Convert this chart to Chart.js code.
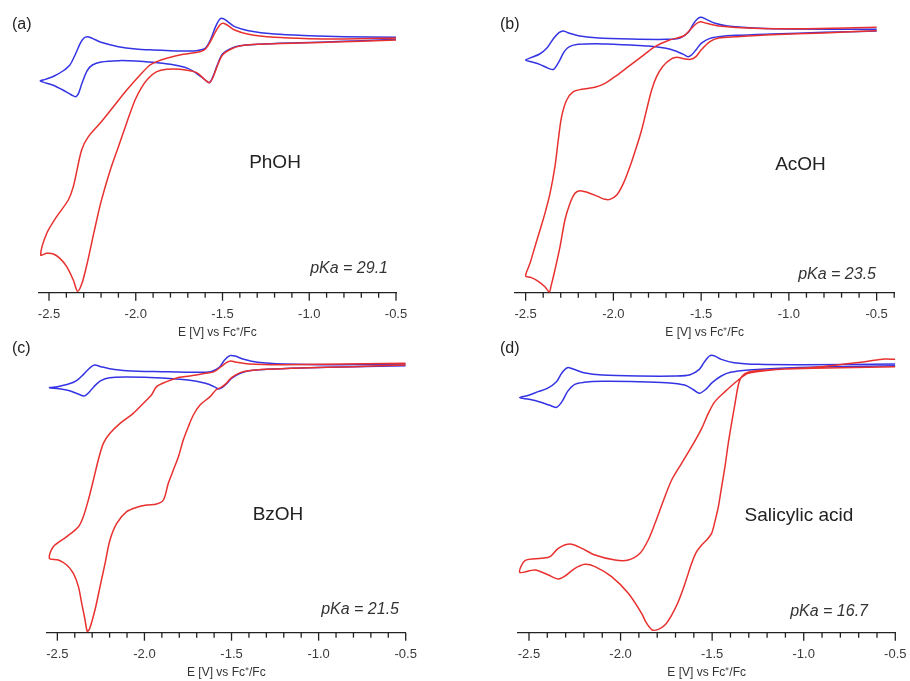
<!DOCTYPE html>
<html>
<head>
<meta charset="utf-8">
<script src="https://cdn.jsdelivr.net/npm/chart.js@4.4.1/dist/chart.umd.min.js"></script>
<style>
  html, body { margin: 0; padding: 0; background: #fff; }
  #wrap { position: relative; width: 910px; height: 681px; overflow: hidden; }
  canvas { position: absolute; }
</style>
</head>
<body>
<div id="wrap">
  <canvas id="cv_a" width="455" height="342" style="left:0;top:0"></canvas>
  <canvas id="cv_b" width="455" height="342" style="left:455px;top:0"></canvas>
  <canvas id="cv_c" width="455" height="341" style="left:0;top:340px"></canvas>
  <canvas id="cv_d" width="455" height="341" style="left:455px;top:340px"></canvas>
</div>
<script>
// CVs of the catalyst alone (blue) and with acid (red)
// E in V vs Fc+/Fc, current in arbitrary units (cathodic = down)

const xTicks = [-2.5, -2.4, -2.3, -2.2, -2.1, -2.0, -1.9, -1.8, -1.7, -1.6, -1.5, -1.4, -1.3, -1.2, -1.1, -1.0, -0.9, -0.8, -0.7, -0.6, -0.5, -0.4];

// (a) PhOH
const eBlueA = [-0.5, -0.7, -0.9, -1.1, -1.3, -1.4, -1.45, -1.5, -1.53, -1.555, -1.575, -1.6, -1.65, -1.7, -1.8, -1.9, -2.0, -2.1, -2.2, -2.25, -2.28, -2.31, -2.33, -2.345, -2.37, -2.42, -2.48, -2.55,
  -2.52, -2.47, -2.42, -2.38, -2.35, -2.32, -2.3, -2.28, -2.25, -2.2, -2.1, -2.0, -1.9, -1.8, -1.7, -1.65, -1.6, -1.57, -1.54, -1.515, -1.495, -1.47, -1.43, -1.35, -1.2, -1.0, -0.8, -0.5];
const iBlueA = [-18, -22, -26, -29, -33, -37, -45, -62, -95, -130, -148, -140, -120, -105, -93, -87, -83, -82, -86, -95, -112, -150, -180, -190, -185, -170, -155, -143,
  -138, -128, -113, -95, -65, -30, -15, -10, -15, -27, -40, -47, -50, -52, -53, -52, -45, -20, 20, 43, 44, 35, 20, 8, -2, -7, -10, -12];
const eRedA = [-0.5, -0.9, -1.3, -1.4, -1.45, -1.5, -1.53, -1.555, -1.575, -1.6, -1.649, -1.745, -1.822, -1.879, -1.927, -1.966, -2.004, -2.05, -2.1, -2.15, -2.2, -2.24, -2.28, -2.31, -2.335, -2.36, -2.398, -2.437, -2.475, -2.513, -2.548,
  -2.513, -2.456, -2.389, -2.36, -2.312, -2.273, -2.206, -2.129, -2.052, -1.975, -1.918, -1.879, -1.822, -1.726, -1.63, -1.6, -1.57, -1.54, -1.515, -1.495, -1.47, -1.43, -1.35, -1.2, -1.0, -0.8, -0.5];
const iRedA = [-20, -27, -33, -38, -47, -65, -98, -132, -148, -140, -118, -108, -108, -115, -135, -162, -200, -265, -340, -415, -505, -595, -690, -750, -774, -740, -700, -675, -662, -660, -665,
  -600, -550, -500, -460, -350, -310, -270, -220, -170, -125, -95, -85, -75, -63, -55, -48, -25, 5, 25, 30, 24, 10, -3, -12, -16, -17, -14];

// (b) AcOH
const eBlueB = [-0.5, -0.8, -1.1, -1.3, -1.4, -1.45, -1.5, -1.53, -1.555, -1.575, -1.6, -1.65, -1.7, -1.8, -1.9, -2.0, -2.1, -2.2, -2.25, -2.28, -2.31, -2.34, -2.37, -2.42, -2.47, -2.5,
  -2.47, -2.42, -2.38, -2.34, -2.31, -2.285, -2.25, -2.2, -2.1, -1.9, -1.7, -1.62, -1.57, -1.54, -1.505, -1.47, -1.42, -1.35, -1.2, -1.0, -0.5];
const iBlueB = [7, 3, -2, -6, -10, -15, -30, -50, -65, -70, -63, -52, -45, -38, -35, -33, -31, -33, -40, -55, -85, -108, -105, -93, -85, -80,
  -73, -62, -45, -15, 2, 7, 0, -7, -13, -17, -18, -14, 5, 32, 48, 42, 30, 22, 16, 13, 12];
const eRedB = [-0.5, -0.8, -1.1, -1.3, -1.4, -1.45, -1.5, -1.53, -1.56, -1.6, -1.64, -1.68, -1.72, -1.754, -1.782, -1.811, -1.839, -1.868, -1.906, -1.943, -1.981, -2.019, -2.048, -2.086, -2.143, -2.19, -2.219, -2.247, -2.276, -2.304, -2.333, -2.356, -2.365, -2.39, -2.43, -2.47, -2.5,
  -2.475, -2.447, -2.418, -2.39, -2.361, -2.333, -2.314, -2.295, -2.266, -2.228, -2.181, -2.105, -2.048, -1.991, -1.915, -1.839, -1.763, -1.68, -1.6, -1.56, -1.53, -1.505, -1.47, -1.4, -1.2, -0.9, -0.5];
const iRedB = [8, 1, -4, -10, -14, -25, -50, -70, -78, -76, -72, -80, -100, -130, -170, -230, -290, -340, -400, -450, -485, -498, -498, -490, -478, -472, -480, -510, -560, -640, -710, -760, -776, -760, -743, -732, -728,
  -690, -640, -590, -540, -480, -400, -320, -250, -200, -175, -168, -162, -150, -130, -100, -70, -40, -20, -8, 12, 28, 35, 30, 22, 15, 14, 18];

// (c) BzOH
const eBlueC = [-0.5, -0.8, -1.1, -1.3, -1.4, -1.45, -1.5, -1.53, -1.555, -1.575, -1.6, -1.65, -1.75, -1.9, -2.1, -2.2, -2.25, -2.29, -2.32, -2.345, -2.38, -2.43, -2.49, -2.545,
  -2.5, -2.44, -2.39, -2.35, -2.31, -2.285, -2.25, -2.2, -2.1, -1.9, -1.7, -1.62, -1.57, -1.54, -1.51, -1.48, -1.43, -1.35, -1.2, -0.9, -0.5];
const iBlueC = [23, 20, 16, 12, 8, 0, -15, -32, -43, -47, -40, -30, -20, -14, -11, -13, -22, -40, -58, -68, -62, -52, -46, -43,
  -40, -33, -22, -3, 18, 25, 20, 14, 8, 5, 3, 5, 18, 40, 53, 52, 42, 33, 28, 26, 28];
const eRedC = [-0.5, -0.8, -1.1, -1.3, -1.4, -1.45, -1.5, -1.53, -1.56, -1.59, -1.623, -1.681, -1.719, -1.748, -1.777, -1.805, -1.834, -1.863, -1.891, -1.93, -1.987, -2.044, -2.102, -2.159, -2.198, -2.226, -2.255, -2.284, -2.316, -2.328, -2.341, -2.36, -2.379, -2.408, -2.446, -2.494, -2.546,
  -2.523, -2.446, -2.379, -2.351, -2.322, -2.293, -2.265, -2.236, -2.198, -2.14, -2.064, -2.006, -1.96, -1.93, -1.872, -1.8, -1.74, -1.65, -1.6, -1.56, -1.53, -1.505, -1.47, -1.4, -1.2, -0.5];
const iRedC = [25, 20, 16, 12, 8, 2, -13, -30, -42, -50, -70, -95, -125, -160, -200, -250, -290, -330, -380, -392, -395, -402, -415, -450, -500, -570, -640, -710, -768, -774, -740, -690, -640, -600, -575, -560, -555,
  -520, -490, -460, -430, -380, -320, -260, -210, -180, -150, -120, -90, -65, -40, -25, -12, -8, 0, 5, 20, 32, 37, 33, 28, 26, 30];

// (d) salicylic acid
const eBlueD = [-0.5, -0.8, -1.1, -1.3, -1.4, -1.45, -1.5, -1.535, -1.57, -1.6, -1.65, -1.75, -1.9, -2.1, -2.2, -2.25, -2.29, -2.32, -2.35, -2.39, -2.44, -2.5, -2.55,
  -2.51, -2.45, -2.4, -2.35, -2.32, -2.29, -2.26, -2.2, -2.1, -1.9, -1.7, -1.62, -1.57, -1.545, -1.515, -1.49, -1.45, -1.38, -1.25, -1.0, -0.5];
const iBlueD = [23, 20, 16, 10, 3, -8, -28, -48, -60, -50, -35, -28, -25, -24, -27, -33, -55, -85, -102, -95, -86, -78, -73,
  -67, -55, -45, -25, 2, 17, 13, 2, -5, -8, -8, -4, 12, 32, 52, 53, 42, 32, 27, 26, 28];
const eRedD = [-0.5, -0.8, -1.1, -1.2, -1.3, -1.339, -1.357, -1.375, -1.394, -1.412, -1.43, -1.448, -1.466, -1.485, -1.503, -1.53, -1.557, -1.585, -1.612, -1.648, -1.685, -1.721, -1.758, -1.794, -1.827, -1.86, -1.885, -1.958, -2.049, -2.14, -2.194, -2.249, -2.303, -2.34, -2.394, -2.467, -2.55,
  -2.522, -2.431, -2.385, -2.34, -2.276, -2.212, -2.14, -2.03, -1.958, -1.894, -1.849, -1.812, -1.785, -1.758, -1.721, -1.667, -1.612, -1.557, -1.521, -1.485, -1.43, -1.357, -1.303, -1.175, -0.902, -0.666, -0.557, -0.5];
const iRedD = [20, 17, 13, 10, 4, -10, -35, -90, -150, -210, -280, -340, -400, -445, -480, -500, -515, -535, -570, -630, -685, -725, -755, -768, -770, -748, -720, -660, -610, -580, -573, -585, -608, -617, -605, -590, -597,
  -562, -555, -550, -525, -512, -525, -545, -560, -560, -540, -500, -450, -410, -370, -320, -270, -220, -165, -120, -85, -55, -20, 0, 10, 20, 35, 43, 42];

const xTitle = 'E [V] vs Fc\u207A/Fc';
const BLUE = '#3434e4';
const RED = '#e8312f';
const FONT = "'Liberation Sans', Arial, sans-serif";

Chart.defaults.font.family = FONT;

const panels = [
  { id: 'cv_a', letter: '(a)', acid: 'PhOH', pKa: 'pKa = 29.1', eB: eBlueA, iB: iBlueA, eR: eRedA, iR: iRedA,
    xMax: -0.5, padL: 38.6, padR: 59, padB: 1.83, letterAt: [12, 25], acidAt: [275, 163], pKaAt: [388, 268.5] },
  { id: 'cv_b', letter: '(b)', acid: 'AcOH', pKa: 'pKa = 23.5', eB: eBlueB, iB: iBlueB, eR: eRedB, iR: iRedB,
    xMax: -0.4, padL: 60.1, padR: 15.8, padB: 1.83, letterAt: [45, 25], acidAt: [345.5, 164.5], pKaAt: [421, 275] },
  { id: 'cv_c', letter: '(c)', acid: 'BzOH', pKa: 'pKa = 21.5', eB: eBlueC, iB: iBlueC, eR: eRedC, iR: iRedC,
    xMax: -0.5, padL: 46.9, padR: 49.3, padB: 0.83, letterAt: [12, 9], acidAt: [278, 174.5], pKaAt: [399, 270] },
  { id: 'cv_d', letter: '(d)', acid: 'Salicylic acid', pKa: 'pKa = 16.7', eB: eBlueD, iB: iBlueD, eR: eRedD, iR: iRedD,
    xMax: -0.5, padL: 63, padR: 14.7, padB: 0.83, letterAt: [45, 9], acidAt: [344, 176], pKaAt: [413, 271.5] }
];

function toPoints(e, i) {
  return e.map((v, k) => ({ x: v, y: i[k] }));
}

function isHalf(v) {
  return Math.abs(v * 2 - Math.round(v * 2)) < 1e-6;
}

// minor/major tick marks under the axis plus the panel texts
const panelDecor = {
  id: 'panelDecor',
  afterDraw(chart, args, opts) {
    const { ctx, chartArea } = chart;
    const x = chart.scales.x;
    ctx.save();
    ctx.strokeStyle = '#222';
    ctx.lineWidth = 1.3;
    x.ticks.forEach(t => {
      const px = x.getPixelForValue(t.value);
      ctx.beginPath();
      ctx.moveTo(px, chartArea.bottom);
      ctx.lineTo(px, chartArea.bottom + (isHalf(t.value) ? 8 : 5));
      ctx.stroke();
    });

    ctx.fillStyle = '#222';
    ctx.textBaseline = 'middle';
    ctx.textAlign = 'left';
    ctx.font = '16px ' + FONT;
    ctx.fillText(opts.letter, opts.letterAt[0], opts.letterAt[1]);
    ctx.textAlign = 'center';
    ctx.font = '19px ' + FONT;
    ctx.fillText(opts.acid, opts.acidAt[0], opts.acidAt[1]);
    ctx.textAlign = 'right';
    ctx.fillStyle = '#333';
    ctx.font = 'italic 16px ' + FONT;
    ctx.fillText(opts.pKa, opts.pKaAt[0], opts.pKaAt[1]);
    ctx.restore();
  }
};

panels.forEach(p => {
  new Chart(document.getElementById(p.id), {
    type: 'scatter',
    data: {
      datasets: [
        { label: 'with acid', data: toPoints(p.eR, p.iR), showLine: true, borderColor: RED,
          borderWidth: 1.5, pointRadius: 0, tension: 0.3 },
        { label: 'no acid', data: toPoints(p.eB, p.iB), showLine: true, borderColor: BLUE,
          borderWidth: 1.5, pointRadius: 0, tension: 0.3 }
      ]
    },
    options: {
      responsive: false,
      animation: false,
      events: [],
      layout: { autoPadding: false, padding: { left: p.padL, right: p.padR, top: 0, bottom: p.padB } },
      scales: {
        x: {
          type: 'linear',
          position: 'bottom',
          min: -2.56,
          max: p.xMax,
          grid: { display: false, drawTicks: false },
          border: { display: true, color: '#222', width: 1.3 },
          ticks: {
            autoSkip: false,
            maxRotation: 0,
            padding: 14,
            color: '#3a3a3a',
            font: { size: 13 },
            callback: v => isHalf(v) ? v.toFixed(1) : ''
          },
          afterBuildTicks: s => {
            s.ticks = xTicks.filter(v => v <= s.max + 1e-9).map(v => ({ value: v }));
          },
          title: { display: true, text: xTitle, color: '#333', font: { size: 12 }, padding: 0 },
          afterFit: s => { s.height = 47.5; s.paddingLeft = 0; s.paddingRight = 0; }
        },
        y: { display: false, min: -778, max: 100 }
      },
      plugins: {
        legend: { display: false },
        tooltip: { enabled: false },
        panelDecor: { letter: p.letter, letterAt: p.letterAt, acid: p.acid, acidAt: p.acidAt, pKa: p.pKa, pKaAt: p.pKaAt }
      }
    },
    plugins: [panelDecor]
  });
});
</script>
</body>
</html>
